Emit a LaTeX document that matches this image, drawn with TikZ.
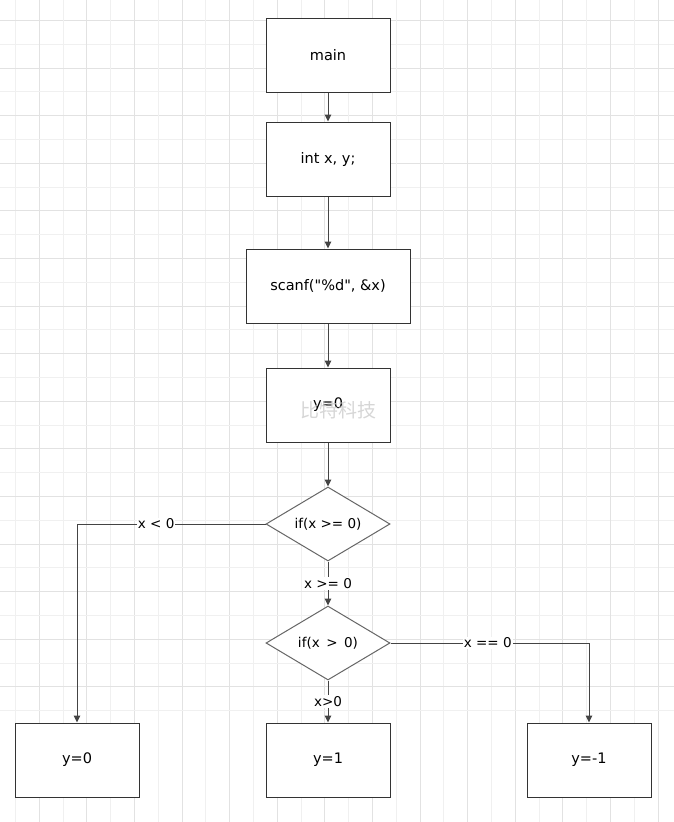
\documentclass[tikz,border=0pt]{standalone}
\usepackage{fontspec}
\setmainfont{DejaVu Sans}
\newfontfamily\codefont{DejaVu Sans}
\newfontfamily\cjk{Noto Sans CJK SC}
\usetikzlibrary{shapes.geometric,positioning,arrows.meta}

\definecolor{gridminor}{HTML}{F0F0F0}
\definecolor{gridmajor}{HTML}{E2E2E2}
\definecolor{edgegray}{HTML}{444444}

\tikzset{
  block/.style={rectangle, draw=black!80, line width=1pt, fill=white,
    minimum width=124pt, minimum height=74pt, inner sep=0pt,
    font=\fontsize{14.5}{17}\selectfont},
  decision/.style={diamond, aspect=1.676, draw=black!60, line width=1pt, fill=white,
    minimum width=124pt, minimum height=74pt, inner sep=0pt,
    font=\fontsize{13.5}{16}\selectfont},
  line/.style={draw=edgegray, line width=1pt, -{Triangle[length=7pt,width=6.5pt]}},
  cond/.style={fill=white, inner sep=1pt, font=\fontsize{13.5}{16}\selectfont},
}

\begin{document}
\begin{tikzpicture}[x=1pt, y=-1pt, node distance=44pt]

  % background and grid
  \fill[white] (0,0) rectangle (674,822);
  \useasboundingbox (0,0) rectangle (674,822);
  \foreach \i in {0,...,14} {
    \pgfmathsetmacro{\gx}{round(15+47.6*\i)+0.5}
    \pgfmathsetmacro{\gy}{round(43.8+47.6*\i)+0.5}
    \draw[gridminor, line width=1pt] (\gx,0) -- (\gx,822);
    \draw[gridminor, line width=1pt] (0,\gy) -- (674,\gy);
    \pgfmathsetmacro{\gx}{round(38.8+47.6*\i)+0.5}
    \pgfmathsetmacro{\gy}{round(20+47.6*\i)+0.5}
    \draw[gridmajor, line width=1pt] (\gx,0) -- (\gx,822);
    \draw[gridmajor, line width=1pt] (0,\gy) -- (674,\gy);
  }

  \node[block] (main) at (328,55) {main};
  \node[block] (decl) [below=29pt of main] {int x, y;};
  \node[block, minimum width=164pt] (scan) [below=52pt of decl] {\codefont scanf("\%d", \&x)};
  \node[block] (init) [below=of scan] {y=0};
    \node[text=gray!40, opacity=0.8, font=\cjk\fontsize{19}{21}\selectfont] (wm) at (338,410) {比特科技};

  \node[decision] (ifge) [below=of init] {if(x >= 0)};
  \node[decision] (ifgt) [below=of ifge] {if(x \,>\, 0)};

  \node[block] (pos) [below=42pt of ifgt] {y=1};
  \node[block] (neg) [left=126pt of pos] {y=0};
  \node[block] (zero) [right=136pt of pos] {y=-1};

  \draw[line] (main) -- (decl);
  \draw[line] (decl) -- (scan);
  \draw[line] (scan) -- (init);
  \draw[line] (init) -- (ifge);
  \draw[line] (ifge) -- node[cond] {x >= 0} (ifgt);
  \draw[line] (ifgt) -- node[cond] {x>0} (pos);
  \draw[line] (ifge.west) -| node[cond, pos=0.29] {x < 0} (neg.north);
  \draw[line] (ifgt.east) -| node[cond, pos=0.245] {x == 0} (zero.north);

\end{tikzpicture}
\end{document}
